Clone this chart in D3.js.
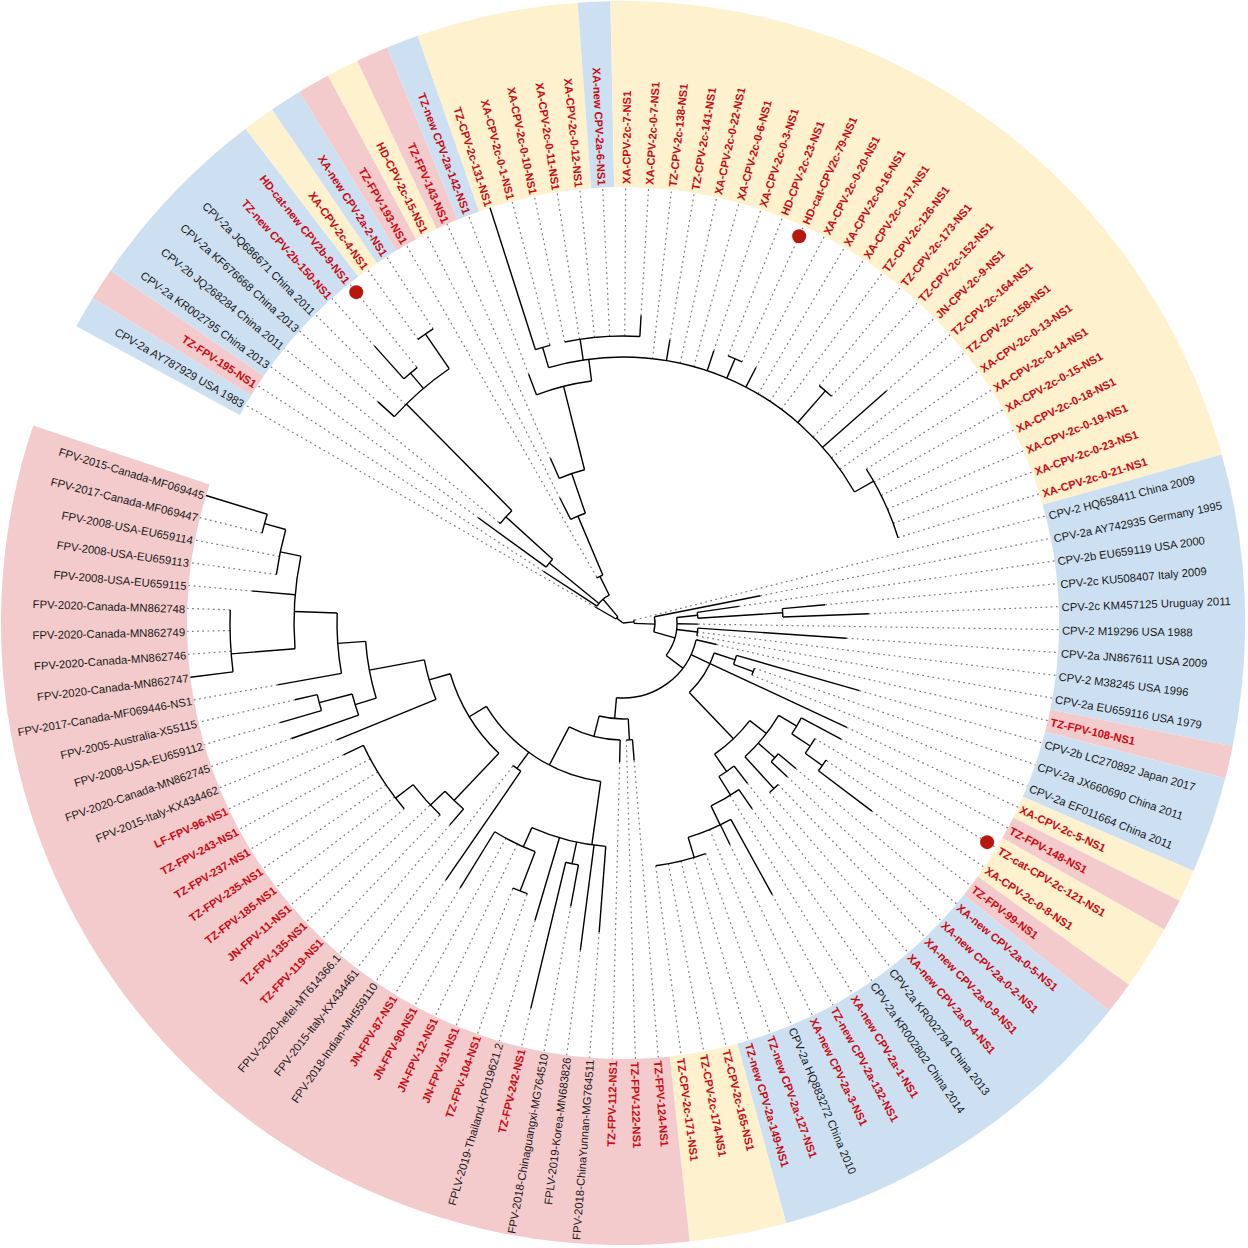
<!DOCTYPE html>
<html>
<head>
<meta charset="utf-8">
<style>
  html, body { margin: 0; padding: 0; background: #fff; }
  svg { display: block; }
  text { font-family: "Liberation Sans", Arial, sans-serif; }
</style>
<script src="https://cdn.jsdelivr.net/npm/d3@7"></script>
</head>
<body>
<svg id="tree" width="1248" height="1248"></svg>
<script>
// ── Data ───────────────────────────────────────────────────────────────────
// leaves, clockwise from the gap at upper left
const leafNames = [
  'CPV-2a AY787929 USA 1983','TZ-FPV-195-NS1','CPV-2a KR002795 China 2013','CPV-2b JQ268284 China 2011',
  'CPV-2a KF676668 China 2013','CPV-2a JQ686671 China 2011','TZ-new CPV-2b-150-NS1','HD-cat-new CPV2b-9-NS1',
  'XA-CPV-2c-4-NS1','XA-new CPV-2a-2-NS1','TZ-FPV-193-NS1','HD-CPV-2c-15-NS1','TZ-FPV-143-NS1',
  'TZ-new CPV-2a-142-NS1','TZ-CPV-2c-131-NS1','XA-CPV-2c-0-1-NS1','XA-CPV-2c-0-10-NS1','XA-CPV-2c-0-11-NS1',
  'XA-CPV-2c-0-12-NS1','XA-new CPV-2a-6-NS1','XA-CPV-2c-7-NS1','XA-CPV-2c-0-7-NS1','TZ-CPV-2c-138-NS1',
  'TZ-CPV-2c-141-NS1','XA-CPV-2c-0-22-NS1','XA-CPV-2c-0-6-NS1','XA-CPV-2c-0-3-NS1','HD-CPV-2c-23-NS1',
  'HD-cat-CPV2c-79-NS1','XA-CPV-2c-0-20-NS1','XA-CPV-2c-0-16-NS1','XA-CPV-2c-0-17-NS1','TZ-CPV-2c-126-NS1',
  'TZ-CPV-2c-173-NS1','TZ-CPV-2c-152-NS1','JN-CPV-2c-9-NS1','TZ-CPV-2c-164-NS1','TZ-CPV-2c-158-NS1',
  'XA-CPV-2c-0-13-NS1','XA-CPV-2c-0-14-NS1','XA-CPV-2c-0-15-NS1','XA-CPV-2c-0-18-NS1','XA-CPV-2c-0-19-NS1',
  'XA-CPV-2c-0-23-NS1','XA-CPV-2c-0-21-NS1','CPV-2 HQ658411 China 2009','CPV-2a AY742935 Germany 1995',
  'CPV-2b EU659119 USA 2000','CPV-2c KU508407 Italy 2009','CPV-2c KM457125 Uruguay 2011','CPV-2 M19296 USA 1988',
  'CPV-2a JN867611 USA 2009','CPV-2 M38245 USA 1996','CPV-2a EU659116 USA 1979','TZ-FPV-108-NS1',
  'CPV-2b LC270892 Japan 2017','CPV-2a JX660690 China 2011','CPV-2a EF011664 China 2011','XA-CPV-2c-5-NS1',
  'TZ-FPV-148-NS1','TZ-cat-CPV-2c-121-NS1','XA-CPV-2c-0-8-NS1','TZ-FPV-99-NS1','XA-new CPV-2a-0-5-NS1',
  'XA-new CPV-2a-0-2-NS1','XA-new CPV-2a-0-9-NS1','XA-new CPV-2a-0-4-NS1','CPV-2a KR002794 China 2013',
  'CPV-2a KR002802 China 2014','XA-new CPV-2a-1-NS1','TZ-new CPV-2a-132-NS1','XA-new CPV-2a-3-NS1',
  'CPV-2a HQ883272 China 2010','TZ-new CPV-2a-127-NS1','TZ-new CPV-2a-149-NS1','TZ-CPV-2c-165-NS1',
  'TZ-CPV-2c-174-NS1','TZ-CPV-2c-171-NS1','TZ-FPV-124-NS1','TZ-FPV-122-NS1','TZ-FPV-112-NS1',
  'FPV-2018-ChinaYunnan-MG764511','FPLV-2019-Korea-MN683826','FPV-2018-Chinaguangxi-MG764510','TZ-FPV-242-NS1',
  'FPLV-2019-Thailand-KP019621.2','TZ-FPV-104-NS1','JN-FPV-91-NS1','JN-FPV-12-NS1','JN-FPV-90-NS1','JN-FPV-87-NS1',
  'FPV-2018-Indian-MH559110','FPV-2015-Italy-KX434461','FPLV-2020-hefei-MT614366.1','TZ-FPV-119-NS1',
  'TZ-FPV-135-NS1','JN-FPV-11-NS1','TZ-FPV-185-NS1','TZ-FPV-235-NS1','TZ-FPV-237-NS1','TZ-FPV-243-NS1',
  'LF-FPV-96-NS1','FPV-2015-Italy-KX434462','FPV-2020-Canada-MN862745','FPV-2008-USA-EU659112',
  'FPV-2005-Australia-X55115','FPV-2017-Canada-MF069446-NS1','FPV-2020-Canada-MN862747','FPV-2020-Canada-MN862746',
  'FPV-2020-Canada-MN862749','FPV-2020-Canada-MN862748','FPV-2008-USA-EU659115','FPV-2008-USA-EU659113',
  'FPV-2008-USA-EU659114','FPV-2017-Canada-MF069447','FPV-2015-Canada-MF069445'
];

// which clade each leaf hangs from, same order as leafNames
const leafParents = [
  'A','A1','Q','Q1','Q2','Q2','Q4','Q4','Q5','Q5','R1','R2','R3','R4','S1','S1',
  'S2','S2','S2','S2','S2','S2','R5','R5','R5','R5','R5','T1','T1','R5','R5','R5','R5',
  'T2','T2','R5','R5','R5','R5','T3','T3','T3','T3','T3','T3',
  'B0','B1','C0','C01','C01','B3','Cx','Cx','Cx','B4','X1','X11','X11','X','Z11','Z111','Z112','Z112',
  'Z13','Z13','Z12','Z12','Z2','Z21','Z21','W','W','W','W1','W1','W1','W1','W1','Y1','Y1','Y2',
  'K','K','K1','K1','K','K21','K21','K2','K2','K2','M2','M2','P1','P3','P3','P4','P4','P4','P4','P4','P4',
  'P2','Pa','Pa1','Pa1','Pb','Pd','Pd','Pd','Pd','Pc','Pg','Pg','Pg1','Pg1'
];

// tree depth of each leaf tip, same order as leafNames
const leafDepths = [
  32,95,179,160,330,308,372,329,350,350,53,140,180,266,436,288,
  287,287,287,287,287,308,266,287,266,266,287,287,287,288,266,266,266,
  308,308,266,351,266,266,288,288,288,288,288,288,
  12,140,117,203,246,75,224,75,75,96,246,139,139,247,247,224,246,312,
  226,225,224,224,203,226,203,310,246,224,245,245,245,245,245,138,117,139,
  310,330,288,396,310,288,288,245,245,311,312,181,266,266,266,287,287,287,287,287,309,
  309,351,357,337,351,436,393,393,393,372,350,350,372,436
];

// inner clades: id, parent, depth, bearing of the stem in degrees where it is not centred
const cladeRows = [
  ['root',null,0,null],
  ['A','root',8,-52],['A1','A',31,-40],['Q','A1',95,null],['Q1','Q',158,null],['Q2','Q1',308,-44.7],
  ['Q4','Q2',328,null],['Q5','Q2',350,null],['R1','A1',52,null],['R2','R1',116,null],['R3','R2',158,null],
  ['R4','R3',244,null],['R5','R4',266,-7.4],['S1','R5',287,null],['S2','R5',287,-8.6],['T1','R5',287,null],
  ['T2','R5',308,null],['T3','R5',288,60.5],
  ['B0','root',11,null],['B1','B0',32,92],['B3','B1',54,106],['C0','B3',75,null],['C01','C0',160,null],
  ['Cx','B3',75,null],['B4','B3',75,127],['X','B4',96,115],['X1','X',118,null],['X11','X1',139,null],
  ['X2','X',160,null],['Z1','X2',181,127.6],['Z11','Z1',202,null],['Z111','Z11',224,null],['Z112','Z111',245,null],
  ['Z13','Z1',203,null],['Z12','Z1',224,null],['Z2','X2',181,null],['Z21','Z2',203,148],['W','Z21',224,154.3],
  ['W1','W',245,163.1],['Y','B4',96,185],['Y1','Y',117,null],['Y2','Y',117,null],['M','Y2',160,207.4],
  ['K','M',224,188],['K1','K',246,null],['K2','K',245,204],['K21','K2',287,null],['M2','M',180,null],
  ['M3','M',180,null],['P1','M3',245,null],['P3','P1',265,226.6],['P4','P3',287,232.4],['P2','M3',202,null],
  ['P21','P2',258,null],['Pa','P21',280,null],['Pa1','Pa',314,null],['Pb','P21',286,null],['Pc','Pb',329,272],
  ['Pd','Pc',393,265.5],['Pg','Pc',350,null],['Pg1','Pg',372,null]
];

// background bands: host colour key and how many consecutive leaves it covers
const bandRuns = [
  ['b',1],['p',1],['b',6],['y',1],['b',1],['p',1],['y',1],['p',1],['b',1],['y',5],['b',1],['y',25],
  ['b',9],['p',1],['b',3],['y',1],['p',1],['y',2],['p',1],['b',12],['y',3],['p',38]
];
const bandColors = { b: '#cde0f2', y: '#fef1ce', p: '#f4cbcc' };

// leaves carrying a red dot
const markedLeaves = [8, 29, 61];

// ── Layout ─────────────────────────────────────────────────────────────────
const CX = 623, CY = 623, R_IN = 436, R_OUT = 622, R_DOT = 425;
const rad = d => d * Math.PI / 180;

const angle = d3.scaleLinear().domain([1, leafNames.length]).range([-60, 287]);
const radius = d3.scaleLinear().domain([0, 436]).range([0, 436]);
const STEP = angle(2) - angle(1);

const rows = [
  ...cladeRows.map(([id, parent, depth, at]) => ({ id, parent, depth, at })),
  ...leafNames.map((name, i) => ({ id: 'L' + (i + 1), parent: leafParents[i], depth: leafDepths[i], at: null, leaf: i + 1, name }))
];
const root = d3.stratify().id(d => d.id).parentId(d => d.parent)(rows);

// a clade sits midway between its outermost children unless the table says otherwise
root.eachAfter(n => {
  if (n.data.leaf) { n.a = angle(n.data.leaf); return; }
  const as = n.children.map(c => c.a);
  n.amin = d3.min(as);
  n.amax = d3.max(as);
  n.a = n.data.at != null ? n.data.at : (n.amin + n.amax) / 2;
});

const svg = d3.select('#tree');
const g = svg.append('g').attr('transform', `translate(${CX},${CY})`);

// ── Bands ──────────────────────────────────────────────────────────────────
let pos = 1;
const bands = bandRuns.map(([key, n]) => {
  const b = { key, start: pos, end: pos + n - 1 };
  pos += n;
  return b;
});
const bandArc = d3.arc().innerRadius(radius(R_IN)).outerRadius(radius(R_OUT))
  .startAngle(d => rad(angle(d.start) - STEP / 2))
  .endAngle(d => rad(angle(d.end) + STEP / 2));
g.append('g').selectAll('path').data(bands).join('path')
  .attr('d', bandArc)
  .attr('fill', d => bandColors[d.key]);

// ── Dotted leaf guides ─────────────────────────────────────────────────────
const leaves = root.leaves().sort((a, b) => a.data.leaf - b.data.leaf);
const spoke = (a, r0, r1) => d3.lineRadial()([[rad(a), radius(r0)], [rad(a), radius(r1)]]);

g.append('g').selectAll('path').data(leaves.filter(d => d.data.depth < R_IN)).join('path')
  .attr('d', d => spoke(d.a, d.data.depth, R_IN))
  .attr('fill', 'none')
  .attr('stroke', '#7c7c7c')
  .attr('stroke-width', 1.2)
  .attr('stroke-dasharray', '1.8,3.4');

// ── Branches ───────────────────────────────────────────────────────────────
const branches = g.append('g').attr('fill', 'none').attr('stroke', '#000').attr('stroke-width', 1.4);

branches.selectAll('path.stem').data(root.descendants().filter(d => d.parent)).join('path')
  .attr('class', 'stem')
  .attr('d', d => spoke(d.a, d.parent.data.depth, d.data.depth));

branches.selectAll('path.span').data(root.descendants().filter(d => d.children && d.parent)).join('path')
  .attr('class', 'span')
  .attr('d', d => {
    const p = d3.path();
    p.arc(0, 0, radius(d.data.depth), rad(d.amin - 90), rad(d.amax - 90));
    return p.toString();
  });

// ── Labels ─────────────────────────────────────────────────────────────────
const isSample = name => /^(TZ|XA|HD|JN|LF)-/.test(name);
const isLeft = a => a < 0 || a > 180;

g.append('g').selectAll('text').data(leaves).join('text')
  .attr('transform', d => {
    const base = `rotate(${d.a - 90}) translate(${isLeft(d.a) ? 438 : 439},0)`;
    return isLeft(d.a) ? base + ' rotate(180)' : base;
  })
  .attr('text-anchor', d => isLeft(d.a) ? 'end' : 'start')
  .attr('dy', '0.42em')
  .attr('font-size', d => isSample(d.data.name) ? 11.2 : 11.3)
  .attr('font-weight', d => isSample(d.data.name) ? 'bold' : 'normal')
  .attr('fill', d => isSample(d.data.name) ? '#cc0a12' : '#1a1a1a')
  .text(d => d.data.name);

// ── Red dots ───────────────────────────────────────────────────────────────
g.append('g').selectAll('circle').data(markedLeaves).join('circle')
  .attr('cx', d => d3.pointRadial(rad(angle(d)), R_DOT)[0])
  .attr('cy', d => d3.pointRadial(rad(angle(d)), R_DOT)[1])
  .attr('r', 7)
  .attr('fill', '#b8170d');
</script>
</body>
</html>
